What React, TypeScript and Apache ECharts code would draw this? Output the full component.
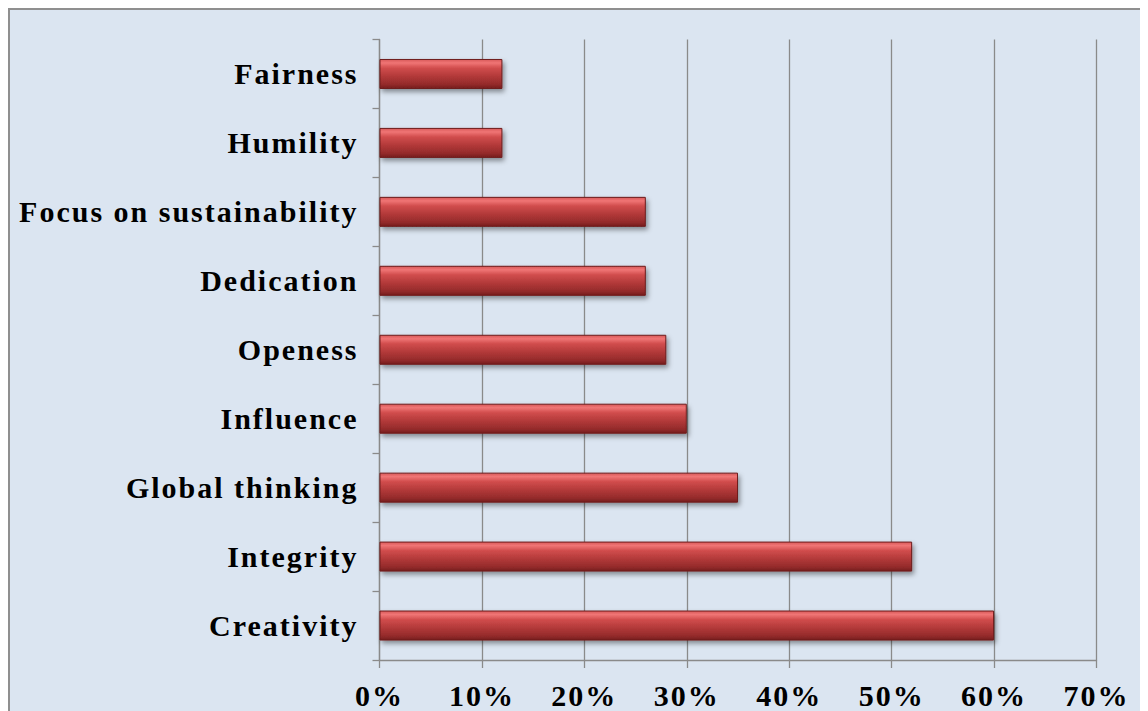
import React, { useEffect, useRef } from "react";
import * as echarts from "echarts";

const categories = [
  "Fairness",
  "Humility",
  "Focus on sustainability",
  "Dedication",
  "Openess",
  "Influence",
  "Global thinking",
  "Integrity",
  "Creativity",
];
const values = [12, 12, 26, 26, 28, 30, 35, 52, 60];
const xTicks = { min: 0, max: 70, interval: 10 };

export default function App() {
  const ref = useRef<HTMLDivElement>(null);
  useEffect(() => {
    if (!ref.current) return;
    const chart = echarts.init(ref.current, null, { renderer: "svg" });
    const font = {
      fontFamily: "'Liberation Serif', 'Times New Roman', serif",
      fontWeight: "bold" as const,
      fontSize: 30,
      color: "#000",
    };
    chart.setOption({
      animation: false,
      grid: { left: 369.5, top: 29.5, width: 717, height: 620.5, containLabel: false },
      xAxis: {
        type: "value",
        min: xTicks.min,
        max: xTicks.max,
        interval: xTicks.interval,
        axisLine: { show: true, lineStyle: { color: "#8a8a8a", width: 1.3 } },
        axisTick: { show: true, length: 8, lineStyle: { color: "#8a8a8a", width: 1.3 } },
        splitLine: { show: true, lineStyle: { color: "#8a8a8a", width: 1.3 } },
        axisLabel: { ...font, margin: 20, formatter: "{value}%" },
      },
      yAxis: {
        type: "category",
        data: categories,
        inverse: true,
        axisLine: { show: true, lineStyle: { color: "#8a8a8a", width: 1.3 } },
        axisTick: { show: true, length: 7, lineStyle: { color: "#8a8a8a", width: 1.3 } },
        axisLabel: { ...font, margin: 21 },
      },
      series: [
        {
          type: "bar",
          data: values,
          barWidth: 30,
          itemStyle: {
            color: new echarts.graphic.LinearGradient(0, 0, 0, 1, [
              { offset: 0, color: "#d85a5a" },
              { offset: 0.12, color: "#f07575" },
              { offset: 0.3, color: "#d04c4c" },
              { offset: 0.6, color: "#b03838" },
              { offset: 0.85, color: "#952b2b" },
              { offset: 1, color: "#761e1e" },
            ]),
            borderColor: "#6e1c1c",
            borderWidth: 1,
            shadowColor: "rgba(0,0,0,0.4)",
            shadowBlur: 5,
            shadowOffsetX: 2,
            shadowOffsetY: 3,
          },
        },
      ],
    });
    return () => chart.dispose();
  }, []);
  return (
    <div
      style={{
        width: 1140,
        height: 703,
        boxSizing: "border-box",
        borderTop: "2px solid #8f8f8f",
        borderLeft: "2px solid #8f8f8f",
        background: "#dbe5f1",
        overflow: "hidden",
      }}
    >
      <div ref={ref} style={{ width: 1138, height: 701, letterSpacing: "2px" }} />
    </div>
  );
}
